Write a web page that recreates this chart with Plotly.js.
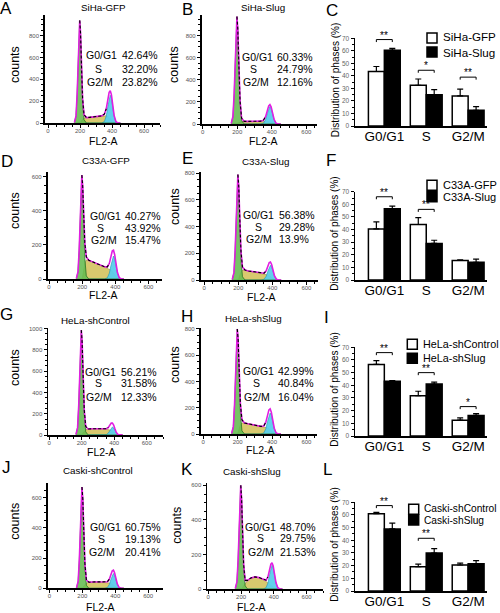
<!DOCTYPE html>
<html><head><meta charset="utf-8">
<script src="https://cdn.plot.ly/plotly-3.0.1.min.js"></script>
<style>html,body{margin:0;padding:0;background:#fff}#chart{width:500px;height:613px}</style>
</head><body><div id="chart"></div>
<script>
// ================= DATA =================
const phaseLabels = ['G0/G1', 'S', 'G2/M'];
// FL2-A channel positions shared by all DNA histograms
const hx = [165,175,182,188,193,198,203,209,216,225,240,260,285,310,335,352,364,374,382,389,396,404,413,424,437,452];

// A  SiHa-GFP
const A_title = 'SiHa-GFP';
const A_g1 = [5,65,265,565,825,940,825,515,190,30,0,0,0,0,0,0,0,0,0,0,0,0,0,0,0,0];
const A_s  = [0,0,0,0,0,0,5,20,35,45,50,52,55,60,65,68,66,60,52,42,30,17,6,0,0,0];
const A_g2 = [0,0,0,0,0,0,0,0,0,0,0,0,0,0,0,13,64,153,230,255,230,153,64,13,0,0];
const A_pct = ['42.64%','32.20%','23.82%'];
// B  SiHa-Slug
const B_title = 'SiHa-Slug';
const B_g1 = [5,68,275,585,860,975,860,535,195,30,0,0,0,0,0,0,0,0,0,0,0,0,0,0,0,0];
const B_s  = [0,0,0,0,0,0,4,12,18,22,24,24,24,25,26,27,26,24,21,17,12,7,3,0,0,0];
const B_g2 = [0,0,0,0,0,0,0,0,0,0,0,0,0,0,0,8,40,96,144,160,144,96,40,8,0,0];
const B_pct = ['60.33%','24.79%','12.16%'];
// D  C33A-GFP
const D_title = 'C33A-GFP';
const D_g1 = [3,43,170,365,535,610,535,335,122,18,0,0,0,0,0,0,0,0,0,0,0,0,0,0,0,0];
const D_s  = [0,0,0,0,0,0,15,50,90,112,110,102,92,82,72,64,58,52,44,34,22,12,4,0,0,0];
const D_g2 = [0,0,0,0,0,0,0,0,0,0,0,0,0,0,0,7,34,81,122,135,122,81,34,7,0,0];
const D_pct = ['40.27%','43.92%','15.47%'];
// E  C33A-Slug
const E_title = 'C33A-Slug';
const E_g1 = [4,55,220,475,695,790,695,435,158,24,0,0,0,0,0,0,0,0,0,0,0,0,0,0,0,0];
const E_s  = [0,0,0,0,0,0,10,35,60,73,74,68,62,56,50,45,41,37,32,25,17,9,3,0,0,0];
const E_g2 = [0,0,0,0,0,0,0,0,0,0,0,0,0,0,0,6,28,66,99,110,99,66,28,6,0,0];
const E_pct = ['56.38%','29.28%','13.9%'];
// G  HeLa-shControl
const G_title = 'HeLa-shControl';
const G_g1 = [5,69,276,590,865,985,865,540,197,30,0,0,0,0,0,0,0,0,0,0,0,0,0,0,0,0];
const G_s  = [0,0,0,0,0,0,5,20,38,50,56,58,60,60,58,55,52,48,44,38,28,16,5,0,0,0];
const G_g2 = [0,0,0,0,0,0,0,0,0,0,0,0,0,0,0,4,19,45,68,75,68,45,19,4,0,0];
const G_pct = ['56.21%','31.58%','12.33%'];
// H  HeLa-shSlug
const H_title = 'HeLa-shSlug';
const H_g1 = [4,56,225,485,705,800,705,445,160,24,0,0,0,0,0,0,0,0,0,0,0,0,0,0,0,0];
const H_s  = [0,0,0,0,0,0,12,40,70,84,84,78,72,65,58,53,50,46,40,32,22,12,4,0,0,0];
const H_g2 = [0,0,0,0,0,0,0,0,0,0,0,0,0,0,0,8,40,96,144,160,144,96,40,8,0,0];
const H_pct = ['42.99%','40.84%','16.04%'];
// J  Caski-shControl
const J_title = 'Caski-shControl';
const J_g1 = [3,47,188,400,590,670,590,370,134,20,0,0,0,0,0,0,0,0,0,0,0,0,0,0,0,0];
const J_s  = [0,0,0,0,0,0,4,14,26,35,40,42,42,41,40,38,35,32,28,22,15,8,3,0,0,0];
const J_g2 = [0,0,0,0,0,0,0,0,0,0,0,0,0,0,0,5,25,59,88,98,88,59,25,5,0,0];
const J_pct = ['60.75%','19.13%','20.41%'];
// K  Caski-shSlug
const K_title = 'Caski-shSlug';
const K_g1 = [3,42,168,360,528,600,528,330,120,18,0,0,0,0,0,0,0,0,0,0,0,0,0,0,0,0];
const K_s  = [0,0,0,0,0,0,2,8,18,32,50,64,70,66,55,44,35,27,20,14,9,5,2,0,0,0];
const K_g2 = [0,0,0,0,0,0,0,0,0,0,0,0,0,0,0,7,35,83,124,138,124,83,35,7,0,0];
const K_pct = ['48.70%','29.75%','21.53%'];

// Bar charts: distribution of phases (%)
const C_names = ['SiHa-GFP','SiHa-Slug'];
const C_ctrl = [43.5,32.5,24.0], C_ctrlErr = [4.0,5.0,5.5];
const C_trt  = [60.5,25.0,12.5], C_trtErr  = [1.5,4.0,3.0];
const C_sigY = [69,44.5,39], C_sigTxt = ['**','*','**'];

const F_names = ['C33A-GFP','C33A-Slug'];
const F_ctrl = [40.5,44.0,15.5], F_ctrlErr = [5.5,5.5,0.5];
const F_trt  = [56.5,29.0,14.0], F_trtErr  = [2.0,2.5,2.5];
const F_sigY = [66,56,null], F_sigTxt = ['**','**',''];

const I_names = ['HeLa-shControl','HeLa-shSlug'];
const I_ctrl = [56.5,31.8,12.5], I_ctrlErr = [3.0,3.5,1.8];
const I_trt  = [43.2,41.0,16.2], I_trtErr  = [0.5,1.5,1.5];
const I_sigY = [65.8,50,23.2], I_sigTxt = ['**','**','*'];

const L_names = ['Caski-shControl','Caski-shSlug'];
const L_ctrl = [61.0,19.2,20.5], L_ctrlErr = [1.0,2.0,1.5];
const L_trt  = [49.0,30.0,21.5], L_trtErr  = [4.5,3.5,2.5];
const L_sigY = [67.4,41.6,null], L_sigTxt = ['**','**',''];

// ================= BUILD =================
const W = 500, H = 613;
const px = x => x / W, py = y => 1 - y / H;
const FONT = 'Liberation Sans, Arial, Helvetica, sans-serif';
const traces = [], annotations = [], shapes = [];
const layout = {
  width: W, height: H, margin: {l:0, r:0, t:0, b:0}, showlegend: false,
  paper_bgcolor: '#fff', plot_bgcolor: 'rgba(0,0,0,0)',
  font: {family: FONT, color: '#000'},
  barmode: 'group', bargap: 0.24, bargroupgap: 0,
  annotations, shapes
};
const sfx = k => (k === 1 ? '' : String(k));

function txt(x, y, text, size, opt) {
  const a = {xref:'paper', yref:'paper', x:px(x), y:py(y), text, showarrow:false,
    font:{size, family:FONT, color:'#000'}, xanchor:'center', yanchor:'middle', borderpad:0};
  return annotations.push(Object.assign(a, opt || {}));
}

function histPanel(k, title, g1, s, g2, pct, L) {
  const xa = 'x' + sfx(k), ya = 'y' + sfx(k);
  const total = g1.map((v, i) => v + s[i] + g2[i]);
  traces.push({type:'scatter', mode:'lines', x:hx, y:s, xaxis:xa, yaxis:ya, fill:'tozeroy',
    fillcolor:'rgba(214,198,102,0.95)', line:{color:'rgb(160,140,50)', width:0.6}});
  traces.push({type:'scatter', mode:'lines', x:hx, y:g2, xaxis:xa, yaxis:ya, fill:'tozeroy',
    fillcolor:'rgba(90,205,235,0.95)', line:{color:'rgb(30,150,180)', width:0.6}});
  traces.push({type:'scatter', mode:'lines', x:hx, y:g1, xaxis:xa, yaxis:ya, fill:'tozeroy',
    fillcolor:'rgba(100,188,80,0.88)', line:{color:'rgb(40,115,35)', width:0.8}});
  // model fit (magenta)
  traces.push({type:'scatter', mode:'lines', x:hx, y:total, xaxis:xa, yaxis:ya,
    line:{color:'rgb(225,30,225)', width:1.6}});
  // measured data (black dashed) visible over the G1 flank and S plateau
  traces.push({type:'scatter', mode:'lines', x:hx.slice(5, 17), y:total.slice(5, 17), xaxis:xa, yaxis:ya,
    line:{color:'#000', width:1.1, dash:'3px,2px'}});
  const d = L.dom;
  layout['xaxis' + sfx(k)] = {domain:[px(d[0]), px(d[1])], range:L.xr, anchor:ya,
    showline:true, linecolor:'#000', linewidth:1.8, showgrid:false, zeroline:false,
    ticks:'outside', ticklen:3, tickwidth:1, tickcolor:'#000', dtick:200, tick0:0,
    ticklabelstandoff:-2,
    tickfont:{size:6, color:'#555', family:FONT},
    minor:{ticks:'outside', ticklen:2, dtick:50, tickcolor:'#000'}};
  layout['yaxis' + sfx(k)] = {domain:[py(d[3]), py(d[2])], range:L.yr, anchor:xa,
    showline:true, linecolor:'#000', linewidth:1.8, showgrid:false, zeroline:false,
    ticks:'outside', ticklen:3, tickwidth:1, tickcolor:'#000', dtick:200, tick0:0,
    tickfont:{size:6, color:'#555', family:FONT},
    minor:{ticks:'outside', ticklen:2, dtick:50, tickcolor:'#000'}};
  txt(L.letter[0], L.letter[1], L.id, 17);
  txt(L.title[0], L.title[1], title, 9.8);
  txt(L.counts[0], L.counts[1], 'counts', 12.5, {textangle:-90});
  txt(L.fl2[0], L.fl2[1] + 3.5, 'FL2-A', 10.5);
  txt(L.vx - 2.5, L.ys[0], phaseLabels[0], 10.5, {xanchor:'right'});
  txt(L.sx, L.ys[1], phaseLabels[1], 10.5);
  txt(L.gx, L.ys[2], phaseLabels[2], 10.5, {xanchor:'left'});
  for (let i = 0; i < 3; i++) txt(L.vx, L.ys[i], pct[i], 10.5, {xanchor:'left'});
}

function barPanel(k, names, ctrl, ctrlErr, trt, trtErr, sigY, sigTxt, L) {
  const xa = 'x' + sfx(k), ya = 'y' + sfx(k);
  const cats = [0, 1, 2];
  const eb = (arr) => ({type:'data', symmetric:false, array:arr, arrayminus:[0,0,0],
    color:'#000', thickness:1.2, width:3});
  traces.push({type:'bar', x:cats, y:ctrl, xaxis:xa, yaxis:ya, name:names[0],
    marker:{color:'#fff', line:{color:'#000', width:1.5}}, error_y:eb(ctrlErr)});
  traces.push({type:'bar', x:cats, y:trt, xaxis:xa, yaxis:ya, name:names[1],
    marker:{color:'#000', line:{color:'#000', width:1.5}}, error_y:eb(trtErr)});
  const d = L.dom;
  layout['xaxis' + sfx(k)] = {domain:[px(d[0]), px(d[1])], range:[-0.7, 2.45], anchor:ya,
    showline:true, linecolor:'#000', linewidth:1.5, showgrid:false, zeroline:false,
    tickmode:'array', tickvals:cats, ticktext:phaseLabels, ticks:'', ticklabelstandoff:-3,
    tickfont:{size:13.5, color:'#000', family:FONT}};
  layout['yaxis' + sfx(k)] = {domain:[py(d[3]), py(d[2])], range:[0, 70], anchor:xa,
    showline:true, linecolor:'#000', linewidth:1.5, showgrid:false, zeroline:false,
    ticks:'outside', ticklen:3, tickwidth:1, tickcolor:'#000', dtick:10, tick0:0,
    tickfont:{size:6.5, color:'#666', family:FONT},
    minor:{ticks:'outside', ticklen:2, dtick:5, tickcolor:'#000'}};
  // significance brackets
  const off = 0.19;
  sigY.forEach((y, i) => {
    if (y === null) return;
    shapes.push({type:'path', xref:xa, yref:ya,
      path:`M ${i-off},${y-2} L ${i-off},${y} L ${i+off},${y} L ${i+off},${y-2}`,
      line:{color:'#000', width:1}});
    annotations.push({xref:xa, yref:ya, x:i, y:y, text:sigTxt[i], showarrow:false,
      yanchor:'bottom', yshift:-3, font:{size:10, family:FONT, color:'#000'}});
  });
  txt(L.letter[0], L.letter[1], L.id, 17);
  txt(335, (d[2] + d[3]) / 2 - 2, 'Distribution of phases (%)', 10, {textangle:-90});
  // legend
  const q = L.leg;
  shapes.push({type:'rect', xref:'paper', yref:'paper', x0:px(q.x), x1:px(q.x + 10),
    y0:py(q.y1 + 5), y1:py(q.y1 - 5), fillcolor:'#fff', line:{color:'#000', width:1.5}});
  shapes.push({type:'rect', xref:'paper', yref:'paper', x0:px(q.x), x1:px(q.x + 10),
    y0:py(q.y2 + 5), y1:py(q.y2 - 5), fillcolor:'#000', line:{color:'#000', width:1.5}});
  txt(q.tx, q.ty1, names[0], q.fs, {xanchor:'left'});
  txt(q.tx, q.ty2, names[1], q.fs, {xanchor:'left'});
}

histPanel(1, A_title, A_g1, A_s, A_g2, A_pct, {id:'A', dom:[45,160,15,123], xr:[-19,700], yr:[0,990],
  letter:[6,8], title:[103,7], counts:[15,65], fl2:[103,138], lx:86, sx:98, gx:86, vx:120.7, ys:[55,69,82]});
histPanel(2, B_title, B_g1, B_s, B_g2, B_pct, {id:'B', dom:[201.7,316.7,15,124], xr:[-6,660], yr:[0,990],
  letter:[187,9], title:[263,7], counts:[174,65], fl2:[263,138], lx:241.7, sx:253.3, gx:241.7, vx:276, ys:[57.3,69.3,81.7]});
barPanel(3, C_names, C_ctrl, C_ctrlErr, C_trt, C_trtErr, C_sigY, C_sigTxt, {id:'C', dom:[355,487,38.3,126],
  letter:[332,11], leg:{x:427, y1:38, y2:52, tx:441.7, ty1:37, ty2:52, fs:11.6}});
histPanel(4, D_title, D_g1, D_s, D_g2, D_pct, {id:'D', dom:[47.7,161.7,171.7,279], xr:[-8,680], yr:[0,630],
  letter:[7,161], title:[105.7,160], counts:[15,211], fl2:[103,291.7], lx:88.3, sx:100.7, gx:90, vx:124, ys:[215.7,228.3,240]});
histPanel(5, E_title, E_g1, E_s, E_g2, E_pct, {id:'E', dom:[200.7,318,171.7,280], xr:[-20,668], yr:[0,812],
  letter:[187,159], title:[265,161.7], counts:[175,207], fl2:[261,293], lx:245, sx:258.3, gx:245, vx:277.5, ys:[215,226.7,239.3]});
barPanel(6, F_names, F_ctrl, F_ctrlErr, F_trt, F_trtErr, F_sigY, F_sigTxt, {id:'F', dom:[355,487,191.7,280],
  letter:[331,160], leg:{x:427, y1:185.2, y2:196.8, tx:441.7, ty1:185, ty2:197.2, fs:11}});
histPanel(7, G_title, G_g1, G_s, G_g2, G_pct, {id:'G', dom:[48.3,163,328,435], xr:[-5,700], yr:[0,1005],
  letter:[6,314], title:[95,320], counts:[15,368], fl2:[101,448], lx:86, sx:98.3, gx:85, vx:119.5, ys:[371.7,383.3,396.7]});
histPanel(8, H_title, H_g1, H_s, H_g2, H_pct, {id:'H', dom:[200.7,316.7,328.3,434], xr:[-15,660], yr:[0,805],
  letter:[187,316], title:[253.3,318.3], counts:[175,365], fl2:[260,446.7], lx:243.3, sx:256.7, gx:243.3, vx:277, ys:[371,383.3,396.7]});
barPanel(9, I_names, I_ctrl, I_ctrlErr, I_trt, I_trtErr, I_sigY, I_sigTxt, {id:'I', dom:[355,487,347.3,436],
  letter:[326,317], leg:{x:407.3, y1:344.3, y2:358.3, tx:421.7, ty1:344.3, ty2:358.3, fs:10.8}});
histPanel(10, J_title, J_g1, J_s, J_g2, J_pct, {id:'J', dom:[47.7,163,483.3,588.3], xr:[-10,690], yr:[0,695],
  letter:[6,468], title:[98.3,470], counts:[15,521.7], fl2:[100,603.5], lx:90, sx:101.7, gx:88.3, vx:124, ys:[526.7,539,551.7]});
histPanel(11, K_title, K_g1, K_s, K_g2, K_pct, {id:'K', dom:[207.3,323,483.3,589], xr:[-6,700], yr:[0,612],
  letter:[187,469], title:[251.7,471.7], counts:[176.7,525], fl2:[251.7,603.5], lx:246.5, sx:260, gx:246.5, vx:279, ys:[526.7,538.3,551.7]});
barPanel(12, L_names, L_ctrl, L_ctrlErr, L_trt, L_trtErr, L_sigY, L_sigTxt, {id:'L', dom:[355,487,502.3,591],
  letter:[327,469], leg:{x:408.7, y1:509.3, y2:520, tx:422.5, ty1:508.3, ty2:520.3, fs:10.2}});

Plotly.newPlot('chart', traces, layout, {staticPlot:true, displayModeBar:false});
</script>
</body></html>
